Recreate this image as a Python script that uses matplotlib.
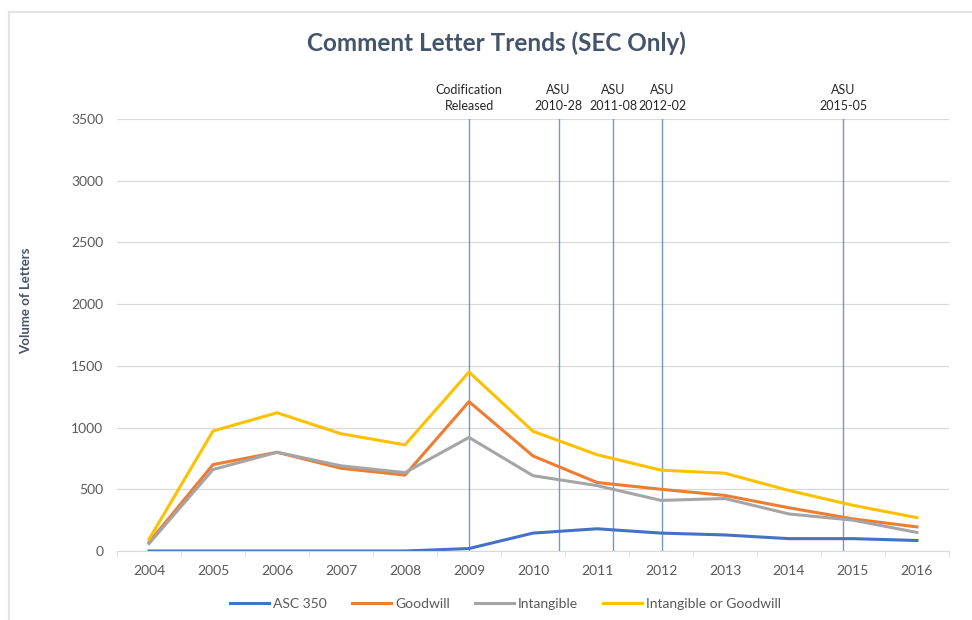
import matplotlib
matplotlib.use("Agg")
import matplotlib.pyplot as plt
from matplotlib.lines import Line2D
import numpy as np

plt.rcParams['font.family'] = ['Lato', 'DejaVu Sans']

years = ['2004', '2005', '2006', '2007', '2008', '2009', '2010',
         '2011', '2012', '2013', '2014', '2015', '2016']

asc350 = [0, 0, 0, 0, 0, 20, 145, 180, 145, 130, 100, 100, 85]
goodwill = [70, 700, 800, 670, 615, 1210, 770, 555, 500, 450, 350, 260, 195]
intangible = [60, 660, 800, 690, 635, 920, 610, 530, 410, 425, 300, 250, 150]
either = [95, 972, 1120, 950, 860, 1450, 970, 780, 655, 630, 490, 370, 270]

# event markers, as position on the category axis (0 = 2004)
event_labels = ['Codification\nReleased', 'ASU\n2010-28', 'ASU\n2011-08',
                'ASU\n2012-02', 'ASU\n2015-05']
event_pos = [5.0, 6.4, 7.25, 8.02, 10.85]

series = [('ASC 350', asc350, '#4472C4'),
          ('Goodwill', goodwill, '#ED7D31'),
          ('Intangible', intangible, '#A5A5A5'),
          ('Intangible or Goodwill', either, '#FFC000')]

fig = plt.figure(figsize=(9.72, 6.2), dpi=100)
ax = fig.add_axes([0.1204, 0.1113, 0.8559, 0.6968])

x = np.arange(len(years))
for name, vals, col in series:
    ax.plot(x, vals, color=col, lw=2.2, label=name, solid_joinstyle='round')

for pos, lab in zip(event_pos, event_labels):
    ax.axvline(pos, color='#5B84CF', lw=1.0, alpha=0.85, zorder=1)
    ax.text(pos, 3560, lab, ha='center', va='bottom', fontsize=9,
            color='#262626', linespacing=1.4)

ax.set_xlim(-0.5, len(years) - 0.5)
ax.set_ylim(0, 3500)
ax.set_yticks(np.arange(0, 3501, 500))
ax.set_xticks(x)
ax.set_xticklabels(years)
ax.set_xticks(np.arange(-0.5, len(years), 1), minor=True)
ax.tick_params(axis='x', which='major', length=0, pad=10, labelsize=10, labelcolor='#595959')
ax.tick_params(axis='x', which='minor', length=4, color='#D9D9D9')
ax.tick_params(axis='y', length=0, pad=10, labelsize=10, labelcolor='#595959')
ax.grid(axis='y', color='#D9D9D9', lw=0.9)
ax.set_axisbelow(True)
for s in ['top', 'right', 'left']:
    ax.spines[s].set_visible(False)
ax.spines['bottom'].set_color('#D9D9D9')

ax.set_ylabel('Volume of Letters', fontsize=9.5, fontweight='bold', color='#44546A')
ax.yaxis.set_label_coords(-0.102, 0.579)

fig.text(0.511, 0.93, 'Comment Letter Trends (SEC Only)', ha='center', va='center',
         fontsize=17.5, fontweight='bold', color='#44546A')

handles = [Line2D([], [], color=c, lw=2.2) for _, _, c in series]
fig.legend(handles, [n for n, _, _ in series], loc='center', bbox_to_anchor=(0.52, 0.026),
           ncol=4, frameon=False, fontsize=10, handlelength=2.8, handletextpad=0.3,
           columnspacing=1.8, labelcolor='#595959')

# light frame around the chart area
fig.add_artist(Line2D([9 / 972, 9 / 972], [0, 1 - 12 / 620], color='#E3E3E3', lw=1.5,
                      transform=fig.transFigure))
fig.add_artist(Line2D([9 / 972, 1], [1 - 12 / 620, 1 - 12 / 620], color='#E3E3E3', lw=1.5,
                      transform=fig.transFigure))

fig.savefig('out.png', dpi=100, facecolor='white')
